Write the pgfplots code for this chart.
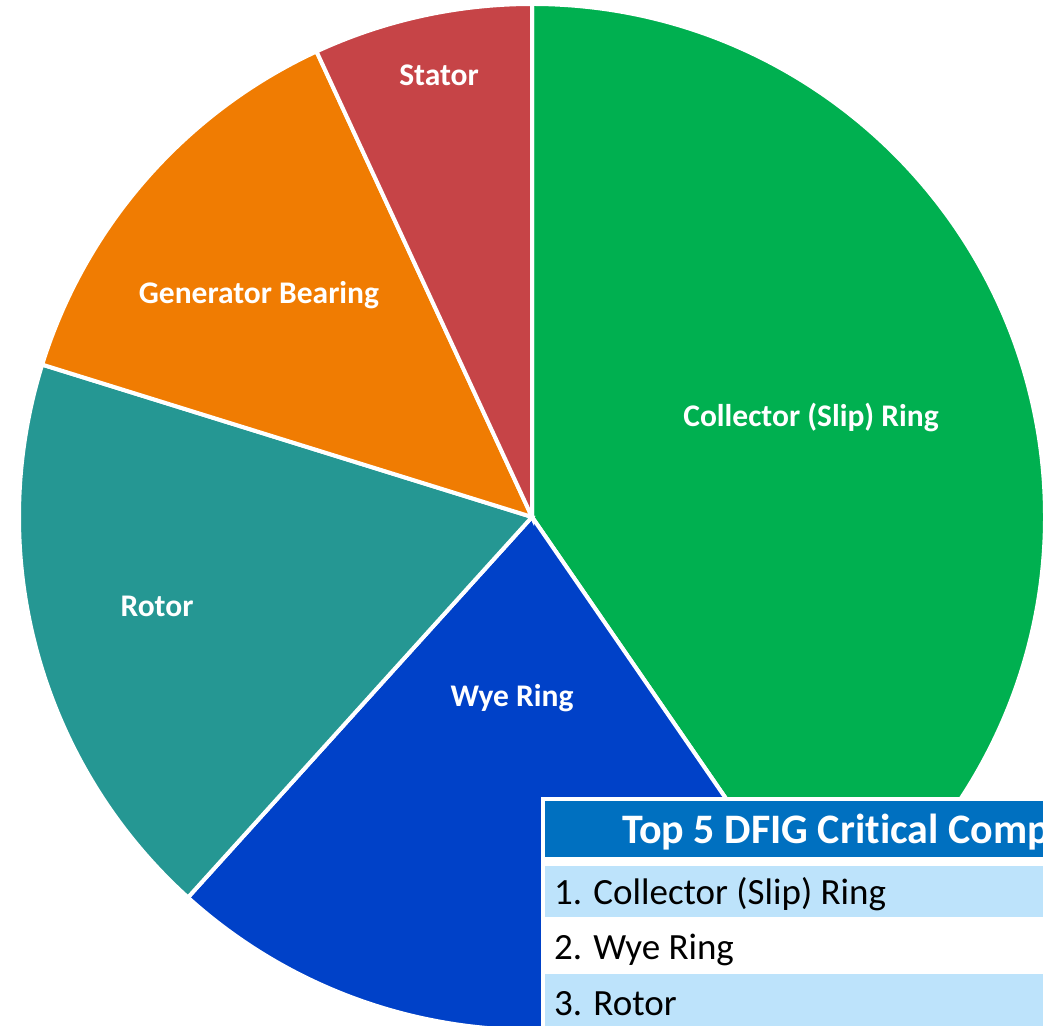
\documentclass[border=0pt]{standalone}
\usepackage{pgfplots}
\pgfplotsset{compat=1.18}
\usepackage{pgfplotstable}
\usepackage{fontspec}
\setmainfont{Carlito}[Ligatures=NoCommon]
\definecolor{cgreen}{HTML}{00B050}
\definecolor{cblue}{HTML}{0041C8}
\definecolor{cteal}{HTML}{259793}
\definecolor{corange}{HTML}{F07C02}
\definecolor{cred}{HTML}{C64447}
\definecolor{hdr}{HTML}{0070C0}
\definecolor{lb}{HTML}{BDE3FB}

\pgfplotstableread{
label value
Collector 40.4
Wye 21.3
Rotor 18.1
Generator 13.3
Stator 6.9
}\piedata

\pgfplotstablegetelem{0}{value}\of\piedata \pgfmathsetmacro\aA{90-3.6*\pgfplotsretval}
\pgfplotstablegetelem{1}{value}\of\piedata \pgfmathsetmacro\aB{\aA-3.6*\pgfplotsretval}
\pgfplotstablegetelem{2}{value}\of\piedata \pgfmathsetmacro\aC{\aB-3.6*\pgfplotsretval}
\pgfplotstablegetelem{3}{value}\of\piedata \pgfmathsetmacro\aD{\aC-3.6*\pgfplotsretval}
\pgfplotstablegetelem{4}{value}\of\piedata \pgfmathsetmacro\aE{\aD-3.6*\pgfplotsretval}

\begin{document}
\begin{tikzpicture}
\useasboundingbox (0,0) rectangle (1043pt,1025pt);
\begin{axis}[at={(0pt,0pt)}, anchor=south west, scale only axis,
  width=1043pt, height=1025pt, xmin=0, xmax=1043, ymin=0, ymax=1025,
  hide axis, clip=true]
\fill[cgreen, draw=white, line width=4pt] (axis cs:532,508) -- ++(90:513pt) arc[start angle=90, end angle=\aA, radius=513pt] -- cycle;
\fill[cblue, draw=white, line width=4pt] (axis cs:532,508) -- ++(\aA:513pt) arc[start angle=\aA, end angle=\aB, radius=513pt] -- cycle;
\fill[cteal, draw=white, line width=4pt] (axis cs:532,508) -- ++(\aB:513pt) arc[start angle=\aB, end angle=\aC, radius=513pt] -- cycle;
\fill[corange, draw=white, line width=4pt] (axis cs:532,508) -- ++(\aC:513pt) arc[start angle=\aC, end angle=\aD, radius=513pt] -- cycle;
\fill[cred, draw=white, line width=4pt] (axis cs:532,508) -- ++(\aD:513pt) arc[start angle=\aD, end angle=\aE, radius=513pt] -- cycle;

\begin{scope}[every node/.style={inner sep=0pt, anchor=base, text=white, font=\fontsize{31.5}{36}\selectfont\bfseries}]
\node at (axis cs:811,598) {Collector (Slip) Ring};
\node at (axis cs:512,318) {Wye Ring};
\node at (axis cs:157,408) {Rotor};
\node at (axis cs:259,721) {Generator Bearing};
\node at (axis cs:439,939) {Stator};
\end{scope}

% overlay table
\fill[white] (axis cs:541,-10) rectangle (axis cs:1100,228);
\fill[hdr] (axis cs:545,168) rectangle (axis cs:1100,224);
\fill[lb] (axis cs:545,108) rectangle (axis cs:1100,159);
\fill[lb] (axis cs:545,-10) rectangle (axis cs:1100,51);
\node[inner sep=0pt, anchor=base west, text=white, font=\fontsize{42}{48}\selectfont\bfseries] at (axis cs:622,181) {Top 5 DFIG Critical Components};
\begin{scope}[every node/.style={inner sep=0pt, anchor=base west, text=black, font=\fontsize{37}{42}\selectfont}]
\node at (axis cs:554,121) {1. Collector (Slip) Ring};
\node at (axis cs:554,66) {2. Wye Ring};
\node at (axis cs:554,10) {3. Rotor};
\end{scope}
\end{axis}
\end{tikzpicture}
\end{document}
